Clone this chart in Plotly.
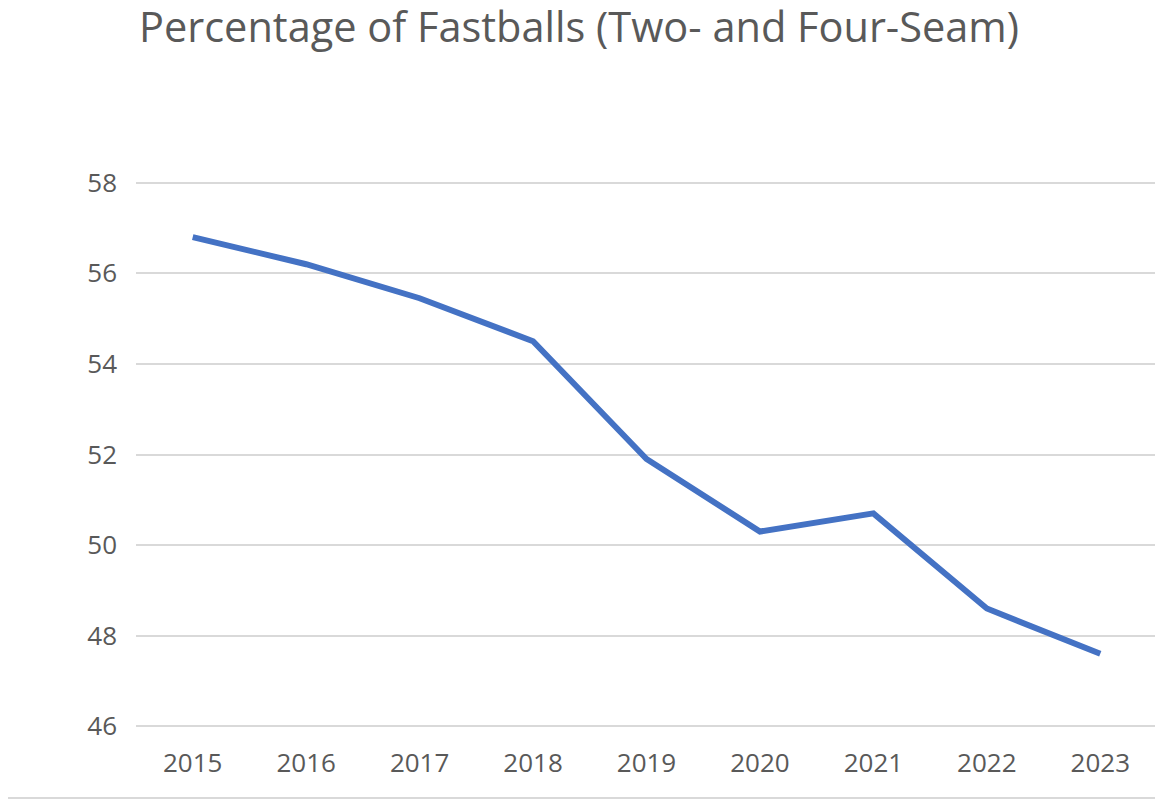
import plotly.graph_objects as go

years = ["2015", "2016", "2017", "2018", "2019", "2020", "2021", "2022", "2023"]
fastball_pct = [56.8, 56.2, 55.45, 54.5, 51.9, 50.3, 50.7, 48.6, 47.6]
y_ticks = [46, 48, 50, 52, 54, 56, 58]

# page body has an 8px margin, so the figure is sized to fit the window
W, H = 1155, 792
L, R, T, B = 128, 6, 172, 71
PW, PH = W - L - R, H - T - B

fig = go.Figure()
fig.add_trace(go.Scatter(
    x=years, y=fastball_pct, mode="lines",
    line=dict(color="#4472C4", width=6),
    hoverinfo="x+y", showlegend=False,
))

fig.update_layout(
    width=W, height=H,
    margin=dict(l=L, r=R, t=T, b=B),
    paper_bgcolor="white", plot_bgcolor="white",
    font=dict(family="Open Sans", color="#595959"),
    title=dict(
        text="Percentage of Fastballs (Two- and Four-Seam)",
        font=dict(size=41.5, color="#595959", family="Open Sans"),
        xref="container", yref="container",
        x=571 / W, y=1 - 19 / H, xanchor="center", yanchor="middle",
    ),
)
fig.update_xaxes(
    type="category", range=[-0.5, 8.5],
    showgrid=False, showline=False, zeroline=False, ticks="",
    tickfont=dict(size=26, color="#595959"),
    ticklabelstandoff=16,
)
fig.update_yaxes(
    range=[45.94, 58.06], tickvals=y_ticks,
    showgrid=True, gridcolor="#D9D9D9", gridwidth=2,
    zeroline=False, showline=False, ticks="",
    tickfont=dict(size=26, color="#595959"),
    ticklabelstandoff=18,
)
yb = -(790 - T - PH) / PH
fig.add_shape(type="line", xref="paper", yref="paper",
              x0=-L / PW, x1=1 + R / PW, y0=yb, y1=yb,
              line=dict(color="#D9D9D9", width=2))

fig.write_html("out.html")
